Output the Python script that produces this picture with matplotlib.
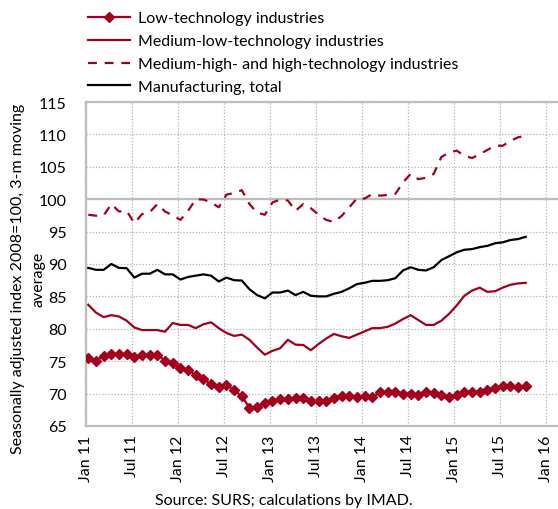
import numpy as np
import matplotlib
matplotlib.use("Agg")
import matplotlib.pyplot as plt

plt.rcParams['font.family'] = ['Lato', 'DejaVu Sans']

# monthly values, Jan 2011 .. Oct 2015
low_tech = [75.5, 75.1, 75.8, 76.1, 76.1, 76.1, 75.6, 76.0, 76.0, 76.0, 75.1, 74.7,
            73.9, 73.7, 72.8, 72.2, 71.5, 71.0, 71.4, 70.5, 69.6, 67.8, 67.9, 68.6,
            68.9, 69.1, 69.1, 69.3, 69.3, 68.8, 68.8, 68.9, 69.3, 69.7, 69.7, 69.4,
            69.7, 69.4, 70.2, 70.2, 70.3, 70.0, 70.0, 69.8, 70.2, 70.1, 69.8, 69.5,
            69.8, 70.2, 70.2, 70.2, 70.6, 70.9, 71.2, 71.2, 71.0, 71.1]
medium_low = [83.7, 82.5, 81.8, 82.1, 81.9, 81.25, 80.2, 79.8, 79.8, 79.8, 79.55, 80.9,
              80.6, 80.6, 80.1, 80.7, 81.0, 80.1, 79.35, 78.9, 79.1, 78.3, 77.1, 76.0,
              76.6, 77.0, 78.3, 77.55, 77.5, 76.7, 77.65, 78.5, 79.2, 78.85, 78.6, 79.1,
              79.6, 80.1, 80.1, 80.3, 80.8, 81.5, 82.1, 81.35, 80.6, 80.6, 81.25, 82.3,
              83.6, 85.1, 85.9, 86.35, 85.7, 85.8, 86.35, 86.8, 87.0, 87.1]
medium_high = [97.6, 97.45, 97.5, 99.25, 98.1, 98.2, 96.3, 97.7, 98.0, 99.25, 98.1, 97.5,
               96.8, 98.2, 100.0, 99.95, 99.5, 98.75, 100.7, 100.95, 101.4, 99.25, 97.9, 97.6,
               99.5, 99.95, 99.8, 98.2, 99.25, 98.6, 97.6, 96.8, 96.5, 97.4, 98.75, 100.1,
               100.1, 100.8, 100.55, 100.65, 100.8, 102.6, 103.9, 103.1, 103.3, 103.9, 106.5, 107.2,
               107.5, 106.7, 106.35, 106.95, 107.6, 108.25, 108.25, 109.0, 109.55, 109.8]
manufacturing = [89.4, 89.1, 89.1, 90.0, 89.4, 89.35, 87.9, 88.5, 88.5, 89.1, 88.4, 88.4,
                 87.6, 88.0, 88.2, 88.4, 88.2, 87.3, 87.9, 87.5, 87.45, 86.1, 85.2, 84.7,
                 85.6, 85.6, 85.9, 85.2, 85.7, 85.1, 85.0, 85.0, 85.4, 85.7, 86.25, 86.9,
                 87.1, 87.4, 87.4, 87.5, 87.8, 89.0, 89.5, 89.1, 89.0, 89.5, 90.6, 91.2,
                 91.8, 92.2, 92.3, 92.6, 92.8, 93.2, 93.35, 93.7, 93.85, 94.2]

tick_labels = ['Jan 11', 'Jul 11', 'Jan 12', 'Jul 12', 'Jan 13', 'Jul 13',
               'Jan 14', 'Jul 14', 'Jan 15', 'Jul 15', 'Jan 16']
y_ticks = [65, 70, 75, 80, 85, 90, 95, 100, 105, 110, 115]

RED = '#a3001e'
GRID = '#b4b4b4'
FS = 11.5

months = np.arange(len(low_tech)) + 0.3

fig = plt.figure(figsize=(5.58, 5.10), dpi=100)
ax = fig.add_axes([86 / 558, 83 / 510, 472 / 558, 324 / 510])

ax.plot(months, low_tech, color=RED, lw=1.6, marker='D', ms=5.2, mec=RED, mfc=RED,
        label='Low-technology industries', zorder=4)
ax.plot(months, medium_low, color=RED, lw=1.6, label='Medium-low-technology industries', zorder=4)
ax.plot(months, medium_high, color=RED, lw=1.6, ls=(0, (4, 3.5)),
        label='Medium-high- and high-technology industries', zorder=4)
ax.plot(months, manufacturing, color='black', lw=1.6, label='Manufacturing, total', zorder=4)

ax.set_xlim(0, 61.5)
ax.set_ylim(65, 115)
ax.set_xticks(np.arange(0, 61, 6))
ax.set_xticklabels(tick_labels, rotation=90, fontsize=FS)
ax.set_yticks(y_ticks)
ax.set_yticklabels([str(v) for v in y_ticks], fontsize=FS)
ax.tick_params(axis='x', length=0, pad=6)
ax.tick_params(axis='y', length=0, pad=14)

ax.grid(True, color=GRID, ls=(0, (1, 1.5)), lw=0.9)
ax.axhline(100, color='#bdbdbd', lw=1.6, zorder=2)
for side in ['left', 'bottom', 'top']:
    ax.spines[side].set_color('#bdbdbd')
    ax.spines[side].set_linewidth(1.6)
ax.spines['right'].set_visible(False)

# y label drawn as two separate lines so the short second line sits clear of the 3-digit ticks
ylab_y = 1 - 279 / 510
fig.text(18 / 558, ylab_y, 'Seasonally adjusted index 2008=100, 3-m moving', rotation=90,
         ha='center', va='center', fontsize=FS)
fig.text(39 / 558, ylab_y, 'average', rotation=90, ha='center', va='center', fontsize=FS)

ax.legend(loc='upper left', bbox_to_anchor=(88 / 558, 1 - 12 / 510), bbox_transform=fig.transFigure,
          frameon=False, fontsize=FS, handlelength=2.6, handletextpad=0.5,
          labelspacing=0.55, borderpad=0.0, borderaxespad=0.0)

fig.text(0.509, 5 / 510, 'Source: SURS; calculations by IMAD.', ha='center', fontsize=FS)

fig.savefig('out.png', dpi=100)
